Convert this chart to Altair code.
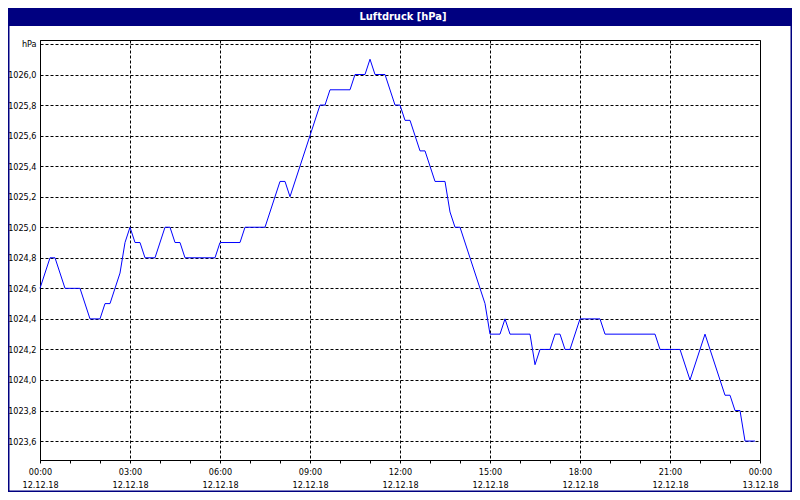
import altair as alt
import pandas as pd

# time of day in minutes since 12.12.18 00:00
minutes = [0, 20, 30, 50, 80, 100, 120, 130, 140, 160, 170, 180, 190, 200, 210, 230,
           250, 260, 270, 280, 290, 350, 360, 400, 410, 450, 480, 490, 500, 560, 570,
           580, 620, 630, 650, 660, 670, 690, 710, 720, 730, 740, 760, 770, 790, 810,
           820, 830, 840, 890, 900, 920, 930, 940, 980, 990, 1000, 1020, 1030, 1040,
           1050, 1060, 1080, 1120, 1130, 1230, 1240, 1280, 1300, 1330, 1370, 1380,
           1390, 1400, 1410, 1430]
pressure = [1024.6, 1024.8, 1024.8, 1024.6, 1024.6, 1024.4, 1024.4, 1024.5, 1024.5,
            1024.7, 1024.9, 1025.0, 1024.9, 1024.9, 1024.8, 1024.8, 1025.0, 1025.0,
            1024.9, 1024.9, 1024.8, 1024.8, 1024.9, 1024.9, 1025.0, 1025.0, 1025.3,
            1025.3, 1025.2, 1025.8, 1025.8, 1025.9, 1025.9, 1026.0, 1026.0, 1026.1,
            1026.0, 1026.0, 1025.8, 1025.8, 1025.7, 1025.7, 1025.5, 1025.5, 1025.3,
            1025.3, 1025.1, 1025.0, 1025.0, 1024.5, 1024.3, 1024.3, 1024.4, 1024.3,
            1024.3, 1024.1, 1024.2, 1024.2, 1024.3, 1024.3, 1024.2, 1024.2, 1024.4,
            1024.4, 1024.3, 1024.3, 1024.2, 1024.2, 1024.0, 1024.3, 1023.9, 1023.9,
            1023.8, 1023.8, 1023.6, 1023.6]

x_tick_values = list(range(0, 1441, 60))
y_tick_values = [1023.6, 1023.8, 1024.0, 1024.2, 1024.4, 1024.6, 1024.8, 1025.0,
                 1025.2, 1025.4, 1025.6, 1025.8, 1026.0, 1026.2]
title_text = "Luftdruck [hPa]"

df = pd.DataFrame({"t": minutes, "p": pressure})

W, H = 720, 420
PAD = 32
NAVY = "#000080"
FONT = "DejaVu Sans Condensed"

x_label_expr = (
    "datum.value % 180 == 0 ? ["
    "(floor(datum.value/60) % 24 < 10 ? '0' : '') + (floor(datum.value/60) % 24) + ':00', "
    "datum.value >= 1440 ? '13.12.18' : '12.12.18'] : ''"
)
y_label_expr = "datum.value > 1026.1 ? 'hPa' : replace(format(datum.value, '.1f'), '.', ',')"

line = alt.Chart(df).mark_line(color="#0000FF", strokeWidth=1, interpolate="linear").encode(
    x=alt.X("t:Q", scale=alt.Scale(domain=[0, 1440], nice=False, zero=False),
            axis=alt.Axis(values=x_tick_values, labelExpr=x_label_expr, title=None,
                          labelOverlap=False, labelFlush=False, tickSize=3,
                          labelPadding=4, labelLineHeight=13,
                          gridOpacity={"condition": {"test": "datum.value % 180 == 0", "value": 1},
                                       "value": 0})),
    y=alt.Y("p:Q", scale=alt.Scale(domain=[1023.476, 1026.226], nice=False, zero=False),
            axis=alt.Axis(values=y_tick_values, labelExpr=y_label_expr, title=None,
                          ticks=False, labelPadding=4, labelOverlap=False, labelFlush=False)),
)

one = alt.Data(values=[{}])

frame = alt.Chart(one).mark_rect(fill=None, stroke=NAVY, strokeWidth=1.5).encode(
    x=alt.value(-PAD + 0.75), x2=alt.value(W + PAD - 0.75),
    y=alt.value(-PAD + 0.75), y2=alt.value(H + PAD - 0.75),
)
title_bar = alt.Chart(one).mark_rect(color=NAVY).encode(
    x=alt.value(-PAD), x2=alt.value(W + PAD),
    y=alt.value(-PAD), y2=alt.value(-PAD + 18),
)
title = alt.Chart(one).mark_text(
    text=title_text, color="white", font=FONT, fontSize=11, fontWeight="bold",
    align="center", baseline="middle",
).encode(x=alt.value(W / 2 + 3), y=alt.value(-PAD + 9))

chart = alt.layer(frame, title_bar, title, line).properties(
    width=W, height=H,
    autosize=alt.AutoSizeParams(type="none"),
    padding={"left": PAD, "top": PAD, "right": PAD, "bottom": PAD},
    background="white",
).configure_view(
    stroke="black", strokeWidth=1
).configure_axis(
    grid=True, gridColor="black", gridDash=[3, 2], gridWidth=1,
    domain=True, domainColor="black", domainWidth=1,
    tickColor="black",
    labelFont=FONT, labelFontSize=9, labelColor="black",
)

chart.save("out.html", embed_options={"renderer": "svg", "actions": False})
